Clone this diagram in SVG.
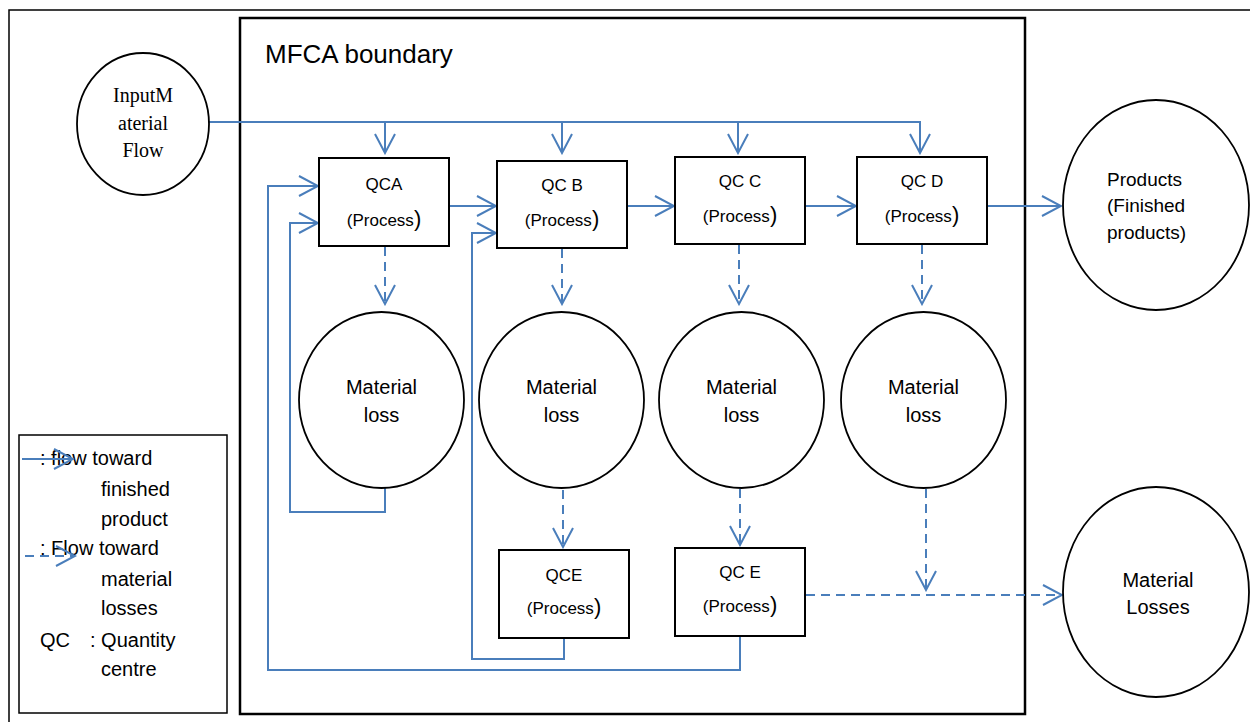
<svg xmlns="http://www.w3.org/2000/svg" width="1250" height="722" viewBox="0 0 1250 722">
<defs>
<style>
.frame{fill:none;stroke:#000;stroke-width:1.5}
.bound{fill:none;stroke:#000;stroke-width:2.5}
.box{fill:#fff;stroke:#000;stroke-width:2}
.ell{fill:#fff;stroke:#000;stroke-width:1.8}
.flow{fill:none;stroke:#4A7EBB;stroke-width:2}
.solid{marker-end:url(#arr)}
.dash{stroke-dasharray:9 6;marker-end:url(#arr)}
.t{font-family:"Liberation Sans",Arial,sans-serif;font-size:17px;fill:#000}
.tc{text-anchor:middle}
.big{font-size:22px}
.pr{font-family:"Liberation Sans",Arial,sans-serif;font-size:19px;fill:#000}
.lg{font-family:"Liberation Sans",Arial,sans-serif;font-size:20px;fill:#000}
.ml{font-family:"Liberation Sans",Arial,sans-serif;font-size:20px;fill:#000;text-anchor:middle}
.serif{font-family:"Liberation Serif","Times New Roman",serif;font-size:20px;fill:#000;text-anchor:middle}
</style>
<marker id="arr" markerUnits="userSpaceOnUse" viewBox="-21 -12 23 24" refX="0" refY="0" markerWidth="23" markerHeight="24" orient="auto">
<path d="M-19,-10 L0,0 L-19,10" fill="none" stroke="#4A7EBB" stroke-width="2"/>
</marker>
</defs>
<rect width="1250" height="722" fill="#fff"/>
<rect class="frame" x="9" y="10" width="1260" height="730"/>
<g id="boundary">
<rect class="bound" x="240" y="18" width="785" height="696"/>
<text x="265" y="63" font-family="Liberation Sans,Arial,sans-serif" font-size="26">MFCA boundary</text>
</g>
<g id="connectors">
<path class="flow solid" d="M209,122 H920 V153"/>
<path class="flow solid" d="M385,122 V153"/>
<path class="flow solid" d="M562,122 V153"/>
<path class="flow solid" d="M738,122 V153"/>
<path class="flow solid" d="M449,206 H496"/>
<path class="flow solid" d="M627,206 H674"/>
<path class="flow solid" d="M805,206 H856"/>
<path class="flow solid" d="M987,206 H1061"/>
<path class="flow dash" d="M385,247 V304"/>
<path class="flow dash" d="M562,249 V304"/>
<path class="flow dash" d="M739,245 V304"/>
<path class="flow dash" d="M922,245 V304"/>
<path class="flow solid" d="M385,488 V512 H290 V223 H318"/>
<path class="flow solid" d="M740,636 V670 H268 V186 H318"/>
<path class="flow solid" d="M564,638 V659 H472 V233 H496"/>
<path class="flow dash" d="M563,490 V547"/>
<path class="flow dash" d="M740,489 V545"/>
<path class="flow dash" d="M926,489 V590"/>
<path class="flow dash" d="M806,595 H1062"/>
</g>
<g id="input">
<ellipse class="ell" cx="143" cy="124" rx="66" ry="71"/>
<text class="serif" x="143" y="102">InputM</text>
<text class="serif" x="143" y="130">aterial</text>
<text class="serif" x="143" y="157">Flow</text>
</g>
<g id="qca">
<rect class="box" x="319" y="158" width="130" height="88"/>
<text class="t tc" x="384" y="190">QCA</text>
<text class="t tc" x="384" y="226">(Process<tspan class="big">)</tspan></text>
</g>
<g id="qcb">
<rect class="box" x="497" y="161" width="130" height="87"/>
<text class="t tc" x="562" y="191">QC B</text>
<text class="t tc" x="562" y="226">(Process<tspan class="big">)</tspan></text>
</g>
<g id="qcc">
<rect class="box" x="675" y="157" width="130" height="87"/>
<text class="t tc" x="740" y="187">QC C</text>
<text class="t tc" x="740" y="222">(Process<tspan class="big">)</tspan></text>
</g>
<g id="qcd">
<rect class="box" x="857" y="157" width="130" height="87"/>
<text class="t tc" x="922" y="187">QC D</text>
<text class="t tc" x="922" y="222">(Process<tspan class="big">)</tspan></text>
</g>
<g id="products">
<ellipse class="ell" cx="1156" cy="205" rx="93" ry="105"/>
<text class="pr" x="1107" y="186">Products</text>
<text class="pr" x="1107" y="212">(Finished</text>
<text class="pr" x="1107" y="239">products)</text>
</g>
<g id="loss1">
<ellipse class="ell" cx="381.5" cy="400" rx="82.5" ry="88"/>
<text class="ml" x="381.5" y="394">Material</text>
<text class="ml" x="381.5" y="422">loss</text>
</g>
<g id="loss2">
<ellipse class="ell" cx="561.5" cy="400" rx="82.5" ry="88"/>
<text class="ml" x="561.5" y="394">Material</text>
<text class="ml" x="561.5" y="422">loss</text>
</g>
<g id="loss3">
<ellipse class="ell" cx="741.5" cy="400" rx="82.5" ry="88"/>
<text class="ml" x="741.5" y="394">Material</text>
<text class="ml" x="741.5" y="422">loss</text>
</g>
<g id="loss4">
<ellipse class="ell" cx="923.5" cy="400" rx="82.5" ry="88"/>
<text class="ml" x="923.5" y="394">Material</text>
<text class="ml" x="923.5" y="422">loss</text>
</g>
<g id="qce1">
<rect class="box" x="499" y="550" width="130" height="88"/>
<text class="t tc" x="564" y="581">QCE</text>
<text class="t tc" x="564" y="614">(Process<tspan class="big">)</tspan></text>
</g>
<g id="qce2">
<rect class="box" x="675" y="548" width="130" height="88"/>
<text class="t tc" x="740" y="578">QC E</text>
<text class="t tc" x="740" y="612">(Process<tspan class="big">)</tspan></text>
</g>
<g id="losses">
<ellipse class="ell" cx="1156" cy="592" rx="93" ry="105"/>
<text class="ml" x="1158" y="587">Material</text>
<text class="ml" x="1158" y="614">Losses</text>
</g>
<g id="legend">
<rect x="19" y="435" width="208" height="278" fill="#fff" stroke="#000" stroke-width="1.5"/>
<text class="lg" x="40" y="465">: flow toward</text>
<text class="lg" x="101" y="496">finished</text>
<text class="lg" x="101" y="526">product</text>
<text class="lg" x="40" y="555">: Flow toward</text>
<text class="lg" x="101" y="586">material</text>
<text class="lg" x="101" y="615">losses</text>
<text class="lg" x="40" y="647">QC</text>
<text class="lg" x="90" y="647">: Quantity</text>
<text class="lg" x="101" y="676">centre</text>
<path class="flow solid" d="M22,459 H73"/>
<path class="flow dash" d="M25,556 H75"/>
</g>
</svg>
